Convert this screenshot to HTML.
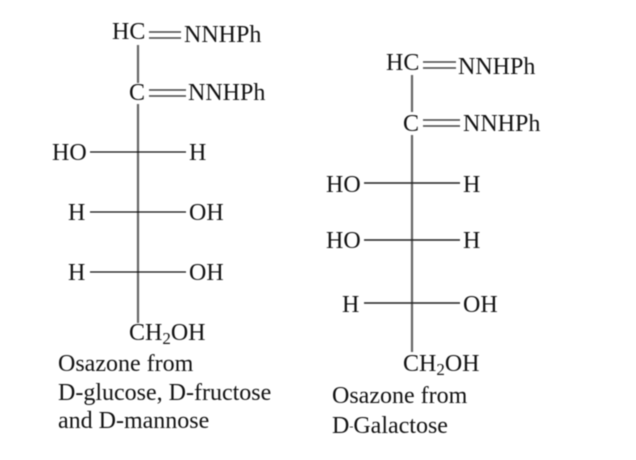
<!DOCTYPE html>
<html><head><meta charset="utf-8"><style>
html,body{margin:0;padding:0;background:#fff;width:636px;height:460px;overflow:hidden}
svg{display:block;filter:blur(.4px)}
text{font-family:"Liberation Serif",serif;fill:#111;font-size:24px}
.s{font-size:24px}
.sub{font-size:17px}
</style></head><body>
<svg width="636" height="460" viewBox="0 0 636 460">
<g stroke="#666" stroke-width="2.2" fill="none">
<path d="M138 45V83M138 104V323"/>
<path d="M412 75V112M412 135V352"/>
</g>
<g stroke="#444" stroke-width="1.6" fill="none">
<path d="M149 32H181M149 38H181"/>
<path d="M149 90H186M149 96H186"/>
<path d="M423 62H456M423 68H456"/>
<path d="M423 120H460M423 126H460"/>
</g>
<g stroke="#111" stroke-width="1.3" fill="none">
<path d="M90 152H186M90 212H186M90 272H186"/>
</g>
<g stroke="#222" stroke-width="1.6" fill="none">
<path d="M364 183H460M364 240H460M364 303H460"/>
</g>
<text x="112" y="39">HC</text>
<text x="184" y="42">NNHPh</text>
<text x="129" y="100">C</text>
<text x="188" y="100">NNHPh</text>
<text x="52" y="160">HO</text>
<text x="189" y="160">H</text>
<text x="68" y="220">H</text>
<text x="189" y="220">OH</text>
<text x="68" y="280">H</text>
<text x="189" y="280">OH</text>
<text x="129" y="340">CH<tspan class="sub" dy="4">2</tspan><tspan dy="-4">OH</tspan></text>
<text class="s" x="58" y="371">Osazone from</text>
<text class="s" x="58" y="400">D-glucose, D-fructose</text>
<text class="s" x="58" y="428">and D-mannose</text>
<text x="386" y="70">HC</text>
<text x="458" y="74">NNHPh</text>
<text x="403" y="131">C</text>
<text x="463" y="131">NNHPh</text>
<text x="326" y="192">HO</text>
<text x="463" y="192">H</text>
<text x="326" y="248">HO</text>
<text x="463" y="248">H</text>
<text x="342" y="312">H</text>
<text x="463" y="312">OH</text>
<text x="403" y="371">CH<tspan class="sub" dy="4">2</tspan><tspan dy="-4">OH</tspan></text>
<text class="s" x="332" y="403">Osazone from</text>
<text class="s" x="332" y="433">D<tspan font-size="12" dy="-3">-</tspan><tspan dy="3">Galactose</tspan></text>
</svg>
</body></html>
